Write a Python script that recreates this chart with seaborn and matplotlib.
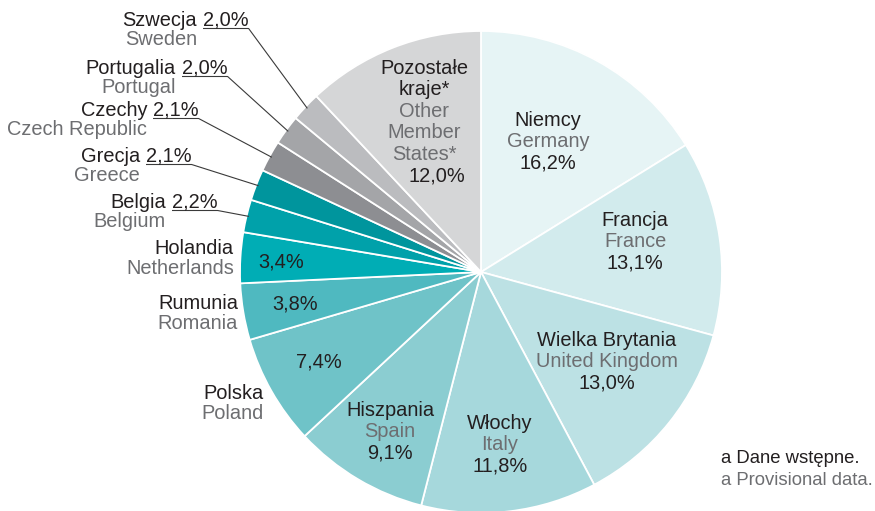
import numpy as np
import matplotlib
matplotlib.use("Agg")
import matplotlib.pyplot as plt
import seaborn as sns

W, H = 875, 511

names_pl = ["Niemcy", "Francja", "Wielka Brytania", "Włochy", "Hiszpania", "Polska",
            "Rumunia", "Holandia", "Belgia", "Grecja", "Czechy", "Portugalia", "Szwecja",
            "Pozostałe\nkraje*"]
names_en = ["Germany", "France", "United Kingdom", "Italy", "Spain", "Poland",
            "Romania", "Netherlands", "Belgium", "Greece", "Czech Republic", "Portugal", "Sweden",
            "Other\nMember\nStates*"]
shares = [16.2, 13.1, 13.0, 11.8, 9.1, 7.4, 3.8, 3.4, 2.2, 2.1, 2.1, 2.0, 2.0, 12.0]
pct_labels = [f"{v:.1f}%".replace(".", ",") for v in shares]

SLICE_COLORS = ["#e6f4f5", "#d2ebed", "#bce1e4", "#a6d8dc", "#8bcdd1", "#6fc3c8",
                "#4fb9c0", "#00adb5", "#00a1aa", "#00959d", "#8d8e92", "#a4a5a8",
                "#bbbcbf", "#d5d6d7"]
DARK = "#231f20"
GREY = "#6d6e71"
LINE = "#3a3a3a"

# layout (pixel coords, y from top)
CENTER = (481, 272)
RADIUS = 241
STEP = 21.5
# labels fully inside: x, y of first line
inner_pos = {0: (548, 120), 1: (635, 220), 2: (607, 340), 3: (500, 423),
             4: (390, 410), 13: (424, 68)}
# pct inside, names outside (right aligned)
pct_inside = {5: (319, 362), 6: (295, 304), 7: (281, 262)}
outer_names = {5: (264, 393), 6: (238, 303), 7: (234, 248)}
# leader labels: split x, y of polish line
leader_pos = {8: (169, 202), 9: (143, 156), 10: (150, 110), 11: (179, 68), 12: (200, 20)}

sns.set_theme(style="white")
plt.rcParams["font.family"] = ["Liberation Sans", "DejaVu Sans"]
FS = 14.4


def py(y):
    return H - y


fig = plt.figure(figsize=(W / 100, H / 100), dpi=100)
ax = fig.add_axes([0, 0, 1, 1])

wedges, _ = ax.pie(shares, colors=sns.color_palette(SLICE_COLORS), startangle=90,
                   counterclock=False, center=(CENTER[0], py(CENTER[1])), radius=RADIUS,
                   wedgeprops=dict(edgecolor="white", linewidth=1.3))
ax.set_xlim(0, W)
ax.set_ylim(0, H)
ax.set_aspect("auto")
ax.axis("off")

# inner labels
for i, (x, y) in inner_pos.items():
    lines = [(s, DARK) for s in names_pl[i].split("\n")]
    lines += [(s, GREY) for s in names_en[i].split("\n")]
    lines += [(pct_labels[i], DARK)]
    for k, (s, c) in enumerate(lines):
        xx = x + 13 if (i == 13 and k == len(lines) - 1) else x
        ax.text(xx, py(y + k * STEP), s, color=c, fontsize=FS, ha="center", va="center")

for i, (x, y) in pct_inside.items():
    ax.text(x, py(y), pct_labels[i], color=DARK, fontsize=FS, ha="center", va="center")

for i, (x, y) in outer_names.items():
    ax.text(x, py(y), names_pl[i], color=DARK, fontsize=FS, ha="right", va="center")
    ax.text(x, py(y + 20), names_en[i], color=GREY, fontsize=FS, ha="right", va="center")

fig.canvas.draw()
renderer = fig.canvas.get_renderer()
inv = ax.transData.inverted()
cx, cy = CENTER[0], py(CENTER[1])
for i, (x, y) in leader_pos.items():
    ax.text(x - 3, py(y), names_pl[i], color=DARK, fontsize=FS, ha="right", va="center")
    ax.text(x - 3, py(y + 19), names_en[i], color=GREY, fontsize=FS, ha="right", va="center")
    t = ax.text(x + 3, py(y), pct_labels[i], color=DARK, fontsize=FS, ha="left", va="center")
    bb = t.get_window_extent(renderer)
    (x0, _), (x1, _) = inv.transform([(bb.x0, bb.y0), (bb.x1, bb.y1)])
    uy = py(y + 8.5)
    w = wedges[i]
    mid = np.deg2rad((w.theta1 + w.theta2) / 2)
    ex = cx + 0.99 * RADIUS * np.cos(mid)
    ey = cy + 0.99 * RADIUS * np.sin(mid)
    ax.plot([x0, x1, ex], [uy, uy, ey], color=LINE, linewidth=0.8, solid_capstyle="butt")

ax.text(721, py(458), "a Dane wstępne.", color=DARK, fontsize=13.3, ha="left", va="center")
ax.text(721, py(480), "a Provisional data.", color=GREY, fontsize=13.3, ha="left", va="center")

fig.savefig("out.png", dpi=100)
